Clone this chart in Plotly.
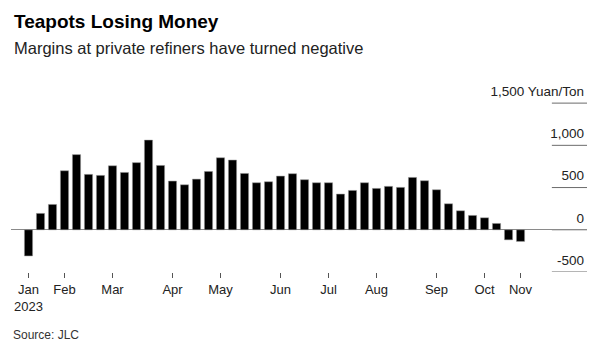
import plotly.graph_objects as go

# ---- data ----
weeks = [
    "2023-01-04", "2023-01-11", "2023-01-18",
    "2023-02-01", "2023-02-08", "2023-02-15", "2023-02-22",
    "2023-03-01", "2023-03-08", "2023-03-15", "2023-03-22", "2023-03-29",
    "2023-04-05", "2023-04-12", "2023-04-19", "2023-04-26",
    "2023-05-03", "2023-05-10", "2023-05-17", "2023-05-24", "2023-05-31",
    "2023-06-07", "2023-06-14", "2023-06-21", "2023-06-28",
    "2023-07-05", "2023-07-12", "2023-07-19", "2023-07-26",
    "2023-08-02", "2023-08-09", "2023-08-16", "2023-08-23", "2023-08-30",
    "2023-09-06", "2023-09-13", "2023-09-20", "2023-09-27",
    "2023-10-11", "2023-10-18", "2023-10-25",
    "2023-11-01",
]
margins = [
    -310, 194, 300,
    699, 890, 656, 644,
    758, 679, 795, 1062, 762,
    577, 533, 600, 691,
    853, 826, 667, 557, 569,
    636, 664, 593, 557,
    557, 423, 466, 557,
    490, 514, 502, 620, 581,
    474, 308, 225, 170,
    142, 75, -119,
    -138,
]
month_tick_weeks = ["2023-01-04", "2023-02-01", "2023-03-01", "2023-04-05", "2023-05-03",
                    "2023-06-07", "2023-07-05", "2023-08-02", "2023-09-06", "2023-10-11",
                    "2023-11-01"]
month_tick_labels = ["Jan<br>2023", "Feb", "Mar", "Apr", "May", "Jun", "Jul", "Aug",
                     "Sep", "Oct", "Nov"]
y_tick_vals = [-500, 0, 500, 1000, 1500]
y_tick_labels = ["-500", "0", "500", "1,000", "1,500 Yuan/Ton"]
y_range = [-500, 1750]
x_range = [-1.458, 46.54]

FONT = "Liberation Sans, Arial, sans-serif"

# weekly bars are evenly spaced (holiday weeks are skipped), so use the week index
x_pos = list(range(len(weeks)))
tick_pos = [weeks.index(w) for w in month_tick_weeks]

fig = go.Figure()
fig.add_trace(
    go.Bar(
        x=x_pos,
        y=margins,
        customdata=weeks,
        hovertemplate="%{customdata}: %{y}<extra></extra>",
        width=0.68,
        marker=dict(color="#000000", line=dict(color="#9a9a9a", width=0.5)),
    )
)
# same series on an overlay axis pair that carries the right-hand value labels
fig.add_trace(
    go.Scatter(x=x_pos, y=margins, xaxis="x2", yaxis="y2", mode="none",
               hoverinfo="skip", showlegend=False)
)

# short gridlines next to the y labels
shapes = [
    dict(type="line", xref="paper", yref="y", x0=0.939, x1=1.0, y0=v, y1=v,
         line=dict(color="#6b6b6b", width=1), layer="below")
    for v in y_tick_vals
]

fig.update_layout(
    width=608,
    height=350,
    margin=dict(l=11, r=21, t=82.2, b=77.7, pad=0),
    paper_bgcolor="white",
    plot_bgcolor="white",
    showlegend=False,
    font=dict(family=FONT, color="#222222"),
    shapes=shapes,
    xaxis=dict(
        range=x_range,
        tickmode="array",
        tickvals=tick_pos,
        ticktext=month_tick_labels,
        ticks="outside",
        ticklen=5,
        tickwidth=1,
        tickcolor="#555555",
        showgrid=False,
        showline=False,
        zeroline=False,
        tickfont=dict(size=13, color="#222222", family=FONT),
    ),
    yaxis=dict(
        range=y_range,
        showticklabels=False,
        ticks="",
        showgrid=False,
        showline=False,
        zeroline=True,
        zerolinecolor="#8a8a8a",
        zerolinewidth=1,
    ),
    xaxis2=dict(
        overlaying="x",
        anchor="y2",
        range=x_range,
        showticklabels=False,
        ticks="",
        showgrid=False,
        showline=False,
        zeroline=False,
    ),
    yaxis2=dict(
        overlaying="y",
        anchor="x2",
        side="right",
        range=y_range,
        tickmode="array",
        tickvals=y_tick_vals,
        ticktext=y_tick_labels,
        ticks="",
        ticklabelposition="inside",
        ticklabelshift=-12,
        showgrid=False,
        showline=False,
        zeroline=False,
        tickfont=dict(size=13.5, color="#222222", family=FONT),
    ),
    annotations=[
        dict(text="<b>Teapots Losing Money</b>", xref="paper", yref="paper",
             x=0.002, y=1.318, xanchor="left", yanchor="middle", showarrow=False,
             font=dict(size=19, color="#000000", family=FONT)),
        dict(text="Margins at private refiners have turned negative", xref="paper", yref="paper",
             x=0.002, y=1.177, xanchor="left", yanchor="middle", showarrow=False,
             font=dict(size=16.5, color="#222222", family=FONT)),
        dict(text="Source: JLC", xref="paper", yref="paper",
             x=0.0, y=-0.332, xanchor="left", yanchor="middle", showarrow=False,
             font=dict(size=12, color="#333333", family=FONT)),
    ],
)

fig.write_html("out.html")
